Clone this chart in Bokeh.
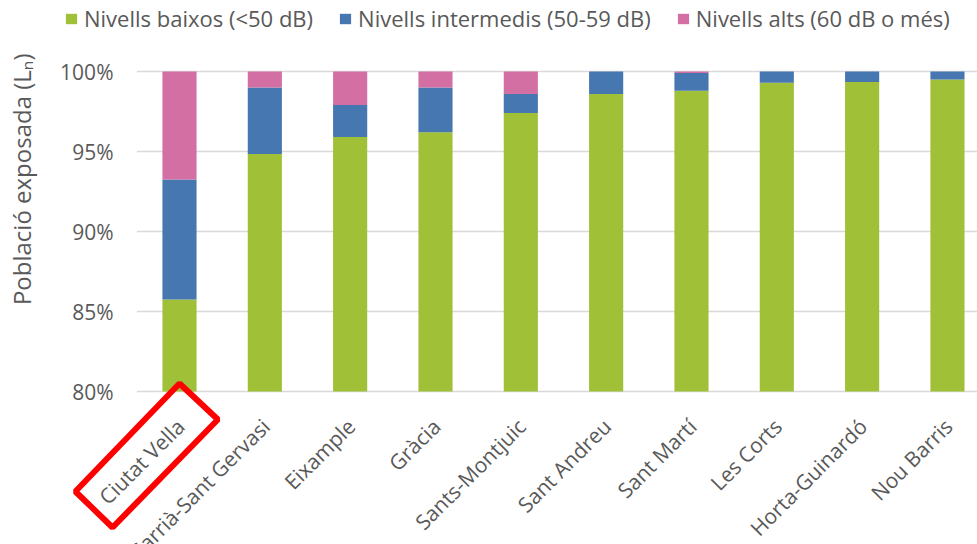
from bokeh.plotting import figure
from bokeh.models import (ColumnDataSource, Range1d, FixedTicker, PrintfTickFormatter,
                          Legend, LegendItem, PolyAnnotation)
from bokeh.core.properties import value
from bokeh.embed import file_html
from bokeh.resources import INLINE
import math

# ---- data ----
districts = ["Ciutat Vella", "Sarrià-Sant Gervasi", "Eixample", "Gràcia", "Sants-Montjuic",
             "Sant Andreu", "Sant Martí", "Les Corts", "Horta-Guinardó", "Nou Barris"]
baixos = [85.75, 94.85, 95.9, 96.2, 97.4, 98.6, 98.8, 99.3, 99.35, 99.5]
intermedis = [7.5, 4.15, 2.0, 2.8, 1.2, 1.4, 1.1, 0.7, 0.65, 0.5]
alts = [6.75, 1.0, 2.1, 1.0, 1.4, 0.0, 0.1, 0.0, 0.0, 0.0]
series_labels = ["Nivells baixos (<50 dB)", "Nivells intermedis (50-59 dB)", "Nivells alts (60 dB o més)"]
y_ticks = [80, 85, 90, 95, 100]
y_label = "Població exposada (Lₙ)"

# highlight box drawn around the first category label (data coordinates)
box_x = [0.0, 0.45, -0.785, -1.22]
box_y = [80.5, 78.25, 71.5, 73.75]

colors = ["#A0C037", "#4677B0", "#D46FA4"]
FONT = "Open Sans"
GRAY = "#595959"

floor = y_ticks[0]
xs = list(range(len(districts)))
t0 = baixos
t1 = [a + b for a, b in zip(baixos, intermedis)]
t2 = [a + b for a, b in zip(t1, alts)]
source = ColumnDataSource(dict(x=xs, b0=[floor] * len(xs), t0=t0, t1=t1, t2=t2,
                               name=districts))

X0, X1 = -2.0977, 9.352
p = figure(width=977, height=544, output_backend="svg", toolbar_location=None,
           x_range=Range1d(X0, X1), y_range=Range1d(70.4375, 104.4375),
           min_border_left=0, min_border_top=0, min_border_bottom=0, min_border_right=0)
p.outline_line_color = None
p.background_fill_color = "white"
p.border_fill_color = "white"
p.xaxis.visible = False
p.xgrid.grid_line_color = None
p.ygrid.grid_line_color = None

# horizontal gridlines from the first category edge to the right
p.segment(x0=[xs[0] - 0.5] * len(y_ticks), x1=[X1] * len(y_ticks), y0=y_ticks, y1=y_ticks,
          line_color="#D9D9D9", line_width=1.5)

r0 = p.vbar(x="x", bottom="b0", top="t0", width=0.4, source=source, color=colors[0], line_color=None)
r1 = p.vbar(x="x", bottom="t0", top="t1", width=0.4, source=source, color=colors[1], line_color=None)
r2 = p.vbar(x="x", bottom="t1", top="t2", width=0.4, source=source, color=colors[2], line_color=None)

# category labels under the bars
p.text(x="x", y=floor, text="name", source=source, angle=math.pi / 4,
       text_align="right", text_baseline="middle", x_offset=1, y_offset=31,
       text_font=value(FONT), text_font_size="21px", text_color=GRAY)

# y axis (labels drawn just left of the first category)
p.yaxis.ticker = FixedTicker(ticks=y_ticks)
p.yaxis.formatter = PrintfTickFormatter(format="%d%%")
p.yaxis.major_label_text_font = FONT
p.yaxis.major_label_text_font_size = "21px"
p.yaxis.major_label_text_color = GRAY
p.yaxis.major_tick_out = 0
p.yaxis.major_tick_in = 0
p.yaxis.major_label_standoff = -113
p.yaxis.axis_line_color = None
p.yaxis.major_tick_line_color = None
p.yaxis.minor_tick_line_color = None

# y axis title, ending just above the 100% line
p.text(x=[X0], y=[y_ticks[-1]], text=[y_label], angle=math.pi / 2,
       text_align="right", text_baseline="middle", x_offset=21, y_offset=-18,
       text_font=value(FONT), text_font_size="24px", text_color=GRAY)

# legend
items = [LegendItem(label=lab, renderers=[r]) for lab, r in zip(series_labels, [r0, r1, r2])]
legend = Legend(items=items, orientation="horizontal", location=(64, 511),
                label_text_font=FONT, label_text_font_size="22px", label_text_color=GRAY,
                glyph_width=14, glyph_height=13, label_standoff=6, spacing=25,
                padding=0, margin=0, border_line_color=None, background_fill_alpha=0)
p.add_layout(legend, "center")

# red highlight box around "Ciutat Vella"
box = PolyAnnotation(xs=box_x, ys=box_y, xs_units="data", ys_units="data",
                     fill_color=None, fill_alpha=0, line_color="#FF0000", line_alpha=1.0,
                     line_width=6)
p.add_layout(box)

open("out.html", "w").write(file_html(p, INLINE))
